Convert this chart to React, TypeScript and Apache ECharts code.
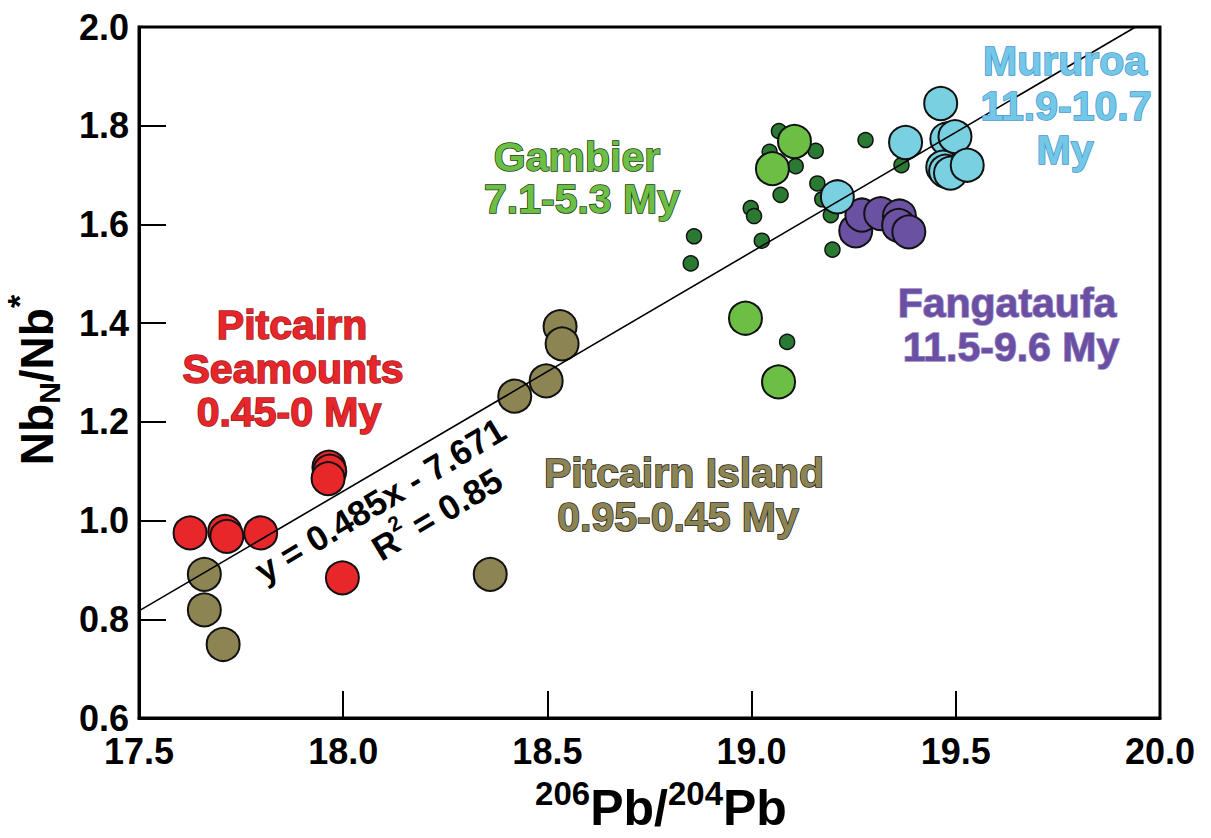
import React, { useEffect, useRef } from "react";
import * as echarts from "echarts";

const FONT = '"Liberation Sans", Arial, Helvetica, sans-serif';

// x = 206Pb/204Pb, y = NbN/Nb*
const seamounts: number[][] = [
  [17.625, 0.975], [17.71, 0.978], [17.715, 0.968], [17.798, 0.975],
  [17.965, 1.108], [17.967, 1.1], [17.963, 1.085], [17.998, 0.884],
];
const pitcairnIsland: number[][] = [
  [17.66, 0.891], [17.66, 0.819], [17.706, 0.749], [18.36, 0.891],
  [18.42, 1.252], [18.497, 1.283], [18.531, 1.393], [18.536, 1.358],
];
const gambierSmall: number[][] = [
  [19.067, 1.789], [19.044, 1.747], [19.157, 1.749], [19.108, 1.718],
  [19.279, 1.771], [19.161, 1.683], [19.071, 1.66], [19.173, 1.651],
  [18.998, 1.633], [19.006, 1.617], [19.194, 1.619], [18.859, 1.576],
  [19.025, 1.567], [18.851, 1.521], [19.198, 1.549], [19.087, 1.362],
  [19.367, 1.72],
];
const gambierLarge: number[][] = [
  [19.105, 1.768], [19.051, 1.713], [18.985, 1.41], [19.066, 1.281],
];
const fangataufa: number[][] = [
  [19.255, 1.587], [19.27, 1.619], [19.316, 1.622], [19.362, 1.617],
  [19.36, 1.598], [19.385, 1.585],
];
const mururoa: number[][] = [
  [19.21, 1.656], [19.377, 1.766], [19.463, 1.845], [19.478, 1.773],
  [19.498, 1.778], [19.468, 1.716], [19.475, 1.708], [19.487, 1.704],
  [19.528, 1.72],
];
const regressionLine: number[][] = [[17.5, 0.817], [19.94, 2.0]];

const xTicks = { min: 17.5, max: 20.0, interval: 0.5 };
const yTicks = { min: 0.6, max: 2.0, interval: 0.2 };

function tw(s: string, size: number): number {
  const c = document.createElement("canvas").getContext("2d");
  if (!c) return s.length * size * 0.6;
  c.font = `bold ${size}px ${FONT}`;
  return c.measureText(s).width;
}

function label(text: string, x: number, y: number, fill: string, stroke: string, size = 41) {
  return {
    type: "text",
    x,
    y,
    z: 100,
    style: {
      text,
      fill,
      stroke,
      lineWidth: 1.5,
      font: `bold ${size}px ${FONT}`,
      align: "center",
      verticalAlign: "middle",
    },
  };
}

function runs(parts: { t: string; size: number; dy: number }[]) {
  const widths = parts.map((p) => tw(p.t, p.size));
  const total = widths.reduce((a, b) => a + b, 0);
  let x = -total / 2;
  return parts.map((p, i) => {
    const el = {
      type: "text",
      x,
      y: p.dy,
      style: {
        text: p.t,
        fill: "#000",
        font: `bold ${p.size}px ${FONT}`,
        align: "left",
        verticalAlign: "middle",
      },
    };
    x += widths[i];
    return el;
  });
}

export default function App() {
  const ref = useRef<HTMLDivElement>(null);
  useEffect(() => {
    if (!ref.current) return;
    const chart = echarts.init(ref.current, null, { renderer: "svg" });
    const border = { borderColor: "#111", borderWidth: 2, opacity: 1 };
    const ang = (31 * Math.PI) / 180;
    chart.setOption({
      animation: false,
      backgroundColor: "#fff",
      grid: {
        left: 139, right: 51, top: 27, bottom: 120,
        show: true, borderColor: "#000", borderWidth: 3,
      },
      xAxis: {
        type: "value",
        min: xTicks.min, max: xTicks.max, interval: xTicks.interval,
        axisLine: { show: true, lineStyle: { color: "#000", width: 3 } },
        axisTick: { show: true, inside: true, length: 27, lineStyle: { color: "#000", width: 2 } },
        splitLine: { show: false },
        axisLabel: {
          margin: 15, color: "#000", fontSize: 36, fontWeight: "bold", fontFamily: FONT,
          formatter: (v: number) => v.toFixed(1),
        },
      },
      yAxis: {
        type: "value",
        min: yTicks.min, max: yTicks.max, interval: yTicks.interval,
        axisLine: { show: true, lineStyle: { color: "#000", width: 3 } },
        axisTick: { show: true, inside: true, length: 27, lineStyle: { color: "#000", width: 2 } },
        splitLine: { show: false },
        axisLabel: {
          margin: 10, color: "#000", fontSize: 36, fontWeight: "bold", fontFamily: FONT,
          formatter: (v: number) => v.toFixed(1),
        },
      },
      series: [
        { type: "scatter", data: gambierSmall, symbolSize: 15, z: 2, itemStyle: { color: "#2b7a34", ...border, borderWidth: 1.5 } },
        { type: "scatter", data: gambierLarge, symbolSize: 33, z: 3, itemStyle: { color: "#6cbf45", ...border } },
        { type: "scatter", data: pitcairnIsland, symbolSize: 33, z: 3, itemStyle: { color: "#8c8452", ...border } },
        { type: "scatter", data: seamounts, symbolSize: 33, z: 3, itemStyle: { color: "#e8272b", ...border } },
        { type: "scatter", data: fangataufa, symbolSize: 33, z: 4, itemStyle: { color: "#6b51a1", ...border } },
        { type: "scatter", data: mururoa, symbolSize: 33, z: 5, itemStyle: { color: "#79d0e0", ...border } },
        {
          type: "line", data: regressionLine, symbol: "none", z: 10,
          lineStyle: { color: "#000", width: 1.6 },
        },
      ],
      graphic: [
        label("Pitcairn", 292, 325, "#e6262a", "#9a1c1c"),
        label("Seamounts", 293, 369, "#e6262a", "#9a1c1c"),
        label("0.45-0 My", 289, 412, "#e6262a", "#9a1c1c"),
        label("Gambier", 577, 157, "#6cbf45", "#1d3a12"),
        label("7.1-5.3 My", 582, 199, "#6cbf45", "#1d3a12"),
        label("Mururoa", 1065, 61, "#72c8e6", "#4b93cf"),
        label("11.9-10.7", 1066, 106, "#72c8e6", "#4b93cf"),
        label("My", 1065, 150, "#72c8e6", "#4b93cf"),
        label("Fangataufa", 1007, 303, "#6a4fa3", "#9b8cc6"),
        label("11.5-9.6 My", 1011, 347, "#6a4fa3", "#9b8cc6"),
        label("Pitcairn Island", 684, 473, "#8c8452", "#222"),
        label("0.95-0.45 My", 678, 517, "#8c8452", "#222"),
        {
          type: "text", x: 380, y: 500, rotation: ang, z: 100,
          style: { text: "y = 0.485x - 7.671", fill: "#000", font: `bold 35px ${FONT}`, align: "center", verticalAlign: "middle" },
        },
        {
          type: "group", x: 437, y: 514, rotation: ang, z: 100,
          children: runs([
            { t: "R", size: 35, dy: 0 },
            { t: "2", size: 21, dy: -14 },
            { t: " = 0.85", size: 35, dy: 0 },
          ]),
        },
        {
          type: "group", x: 37, y: 380, rotation: Math.PI / 2, z: 100,
          children: runs([
            { t: "Nb", size: 46, dy: 0 },
            { t: "N", size: 30, dy: 12 },
            { t: "/Nb", size: 46, dy: 0 },
            { t: "*", size: 34, dy: -18 },
          ]),
        },
        {
          type: "group", x: 661, y: 808, z: 100,
          children: runs([
            { t: "206", size: 33, dy: -15 },
            { t: "Pb/", size: 50, dy: 0 },
            { t: "204", size: 33, dy: -15 },
            { t: "Pb", size: 50, dy: 0 },
          ]),
        },
      ],
    });
    return () => chart.dispose();
  }, []);
  return (
    <div
      ref={ref}
      style={{ position: "absolute", left: 0, top: 0, width: 1211, height: 838, background: "#fff" }}
    />
  );
}
